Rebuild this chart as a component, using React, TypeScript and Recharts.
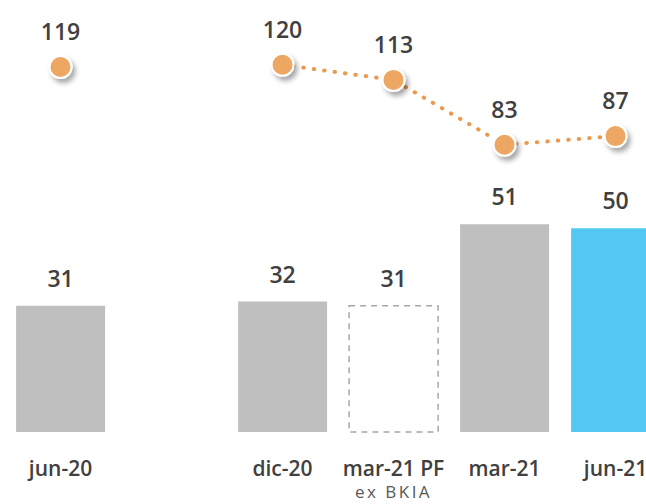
import React from 'react';
import { ComposedChart, Bar, Line, XAxis, YAxis, Cell, LabelList } from 'recharts';

const categories = ['jun-20', '', 'dic-20', 'mar-21 PF', 'mar-21', 'jun-21'];
const subLabels = ['', '', '', 'ex BKIA', '', ''];
const barValues = [31, null, 32, 31, 51, 50];
const lineValues = [119, null, 120, 113, 83, 87];

const GREY = '#BFBFBF';
const BLUE = '#53C8F2';
const ORANGE = '#EDA762';
const TEXT = '#404040';
const FONT = '"Open Sans", "Noto Sans", sans-serif';

const data = categories.map((name, i) => ({
  name,
  bar: barValues[i],
  line: lineValues[i],
}));

const CategoryTick = (props: any) => {
  const { x, y, payload, index } = props;
  const sub = subLabels[index] || '';
  return (
    <g>
      <text x={x} y={y + 36} textAnchor="middle" fill={TEXT} fontFamily={FONT} fontSize={21} fontWeight={600}>
        {payload.value}
      </text>
      {sub && (
        <text x={x} y={y + 58} textAnchor="middle" fill="#595959" fontFamily={FONT} fontSize={17} letterSpacing={2.5}>
          {sub}
        </text>
      )}
    </g>
  );
};

const ShadowDot = (props: any) => {
  const { cx, cy, value, index } = props;
  if (value == null || cx == null || cy == null) return <g key={index} />;
  return (
    <circle key={index} cx={cx} cy={cy} r={11} fill={ORANGE} stroke="#fff" strokeWidth={2} filter="url(#dotShadow)" />
  );
};

export default function App() {
  return (
    <div style={{ position: 'fixed', left: 0, top: 0, width: 646, height: 504, overflow: 'hidden', background: '#fff' }}>
      <ComposedChart
        width={671}
        height={504}
        data={data}
        margin={{ top: 0, right: 0, left: 5, bottom: 32 }}
        barCategoryGap="10%"
      >
        <defs>
          <filter id="dotShadow" x="-50%" y="-50%" width="200%" height="200%">
            <feDropShadow dx={3} dy={4} stdDeviation={2.5} floodColor="#000" floodOpacity={0.35} />
          </filter>
        </defs>
        <XAxis dataKey="name" axisLine={false} tickLine={false} height={40} interval={0} tick={<CategoryTick />} />
        <YAxis yAxisId="bars" hide domain={[0, 106]} />
        <YAxis yAxisId="line" hide domain={[-50, 150]} orientation="right" />
        <Bar yAxisId="bars" dataKey="bar" isAnimationActive={false}>
          {data.map((d, i) => (
            <Cell
              key={i}
              fill={i === 3 ? '#fff' : i === 5 ? BLUE : GREY}
              stroke={i === 3 ? '#A6A6A6' : 'none'}
              strokeWidth={i === 3 ? 1.5 : 0}
              strokeDasharray={i === 3 ? '6 5' : undefined}
            />
          ))}
          <LabelList dataKey="bar" position="top" offset={19} fill={TEXT} fontFamily={FONT} fontSize={23} fontWeight={600} />
        </Bar>
        <Line
          yAxisId="line"
          dataKey="line"
          stroke="#E99A4E"
          strokeWidth={4}
          strokeDasharray="0.5 10"
          strokeLinecap="round"
          type="linear"
          dot={<ShadowDot />}
          activeDot={false}
          isAnimationActive={false}
        >
          <LabelList dataKey="line" position="top" offset={27} fill={TEXT} fontFamily={FONT} fontSize={23} fontWeight={600} />
        </Line>
      </ComposedChart>
    </div>
  );
}
